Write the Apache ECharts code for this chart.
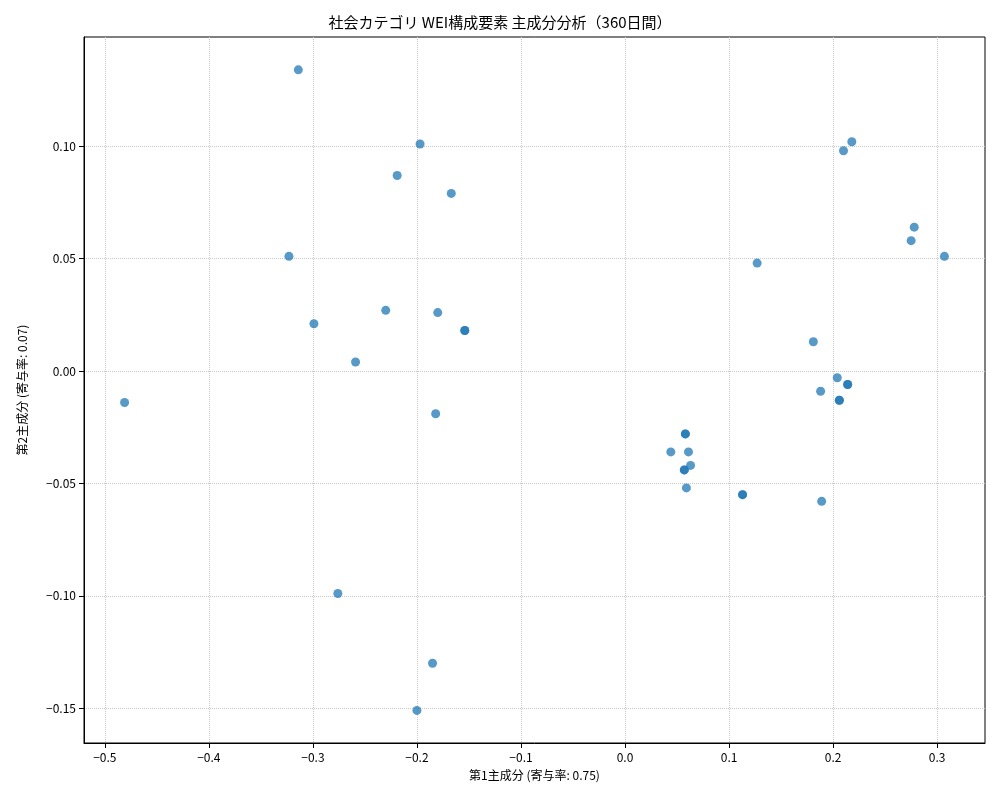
<!DOCTYPE html>
<html><head><meta charset="utf-8">
<script src="https://cdn.jsdelivr.net/npm/echarts@6/dist/echarts.min.js"></script>
<style>html,body{margin:0;padding:0;background:#fff}#c{width:1000px;height:800px}</style>
</head><body><div id="c"></div>
<script>
const pc1 = [-0.314,-0.197,0.218,0.210,-0.219,-0.167,0.278,0.275,-0.323,0.307,0.127,-0.230,-0.180,-0.299,-0.154,-0.154,0.181,-0.259,0.204,0.214,0.214,-0.481,0.188,0.206,0.206,-0.182,0.058,0.058,0.044,0.061,0.063,0.057,0.057,0.059,0.113,0.113,0.189,-0.276,-0.185,-0.200];
const pc2 = [0.134,0.101,0.102,0.098,0.087,0.079,0.064,0.058,0.051,0.051,0.048,0.027,0.026,0.021,0.018,0.018,0.013,0.004,-0.003,-0.006,-0.006,-0.014,-0.009,-0.013,-0.013,-0.019,-0.028,-0.028,-0.036,-0.036,-0.042,-0.044,-0.044,-0.052,-0.055,-0.055,-0.058,-0.099,-0.130,-0.151];
const xTicks = [-0.5,-0.4,-0.3,-0.2,-0.1,0.0,0.1,0.2,0.3];
const yTicks = [-0.15,-0.10,-0.05,0.00,0.05,0.10];
const F = '"Noto Sans CJK JP", "DejaVu Sans", sans-serif';
const chart = echarts.init(document.getElementById('c'));
const grid = {type:'dotted', color:'#c8c8c8'};
chart.setOption({
  animation:false,
  title:{text:'社会カテゴリ WEI構成要素 主成分分析（360日間）',left:'center',top:10,textStyle:{fontFamily:F,fontSize:15,fontWeight:'normal',color:'#000'}},
  grid:{left:84,right:15,top:37,bottom:57,containLabel:false,show:true,borderColor:'#000',borderWidth:1},
  xAxis:{type:'value',min:-0.520,max:0.346,
    name:'第1主成分 (寄与率: 0.75)',nameLocation:'middle',nameGap:26,nameTextStyle:{fontFamily:F,fontSize:12,color:'#000'},
    axisLine:{show:true,onZero:false,lineStyle:{color:'#000'}},axisTick:{show:true,customValues:xTicks,lineStyle:{color:'#000'}},
    splitLine:{show:true,lineStyle:grid},
    axisLabel:{fontFamily:F,fontSize:12,color:'#000',
      customValues:xTicks,formatter:v=>{const r=Math.round(v*10)/10;return (r<0?'−':'')+Math.abs(r).toFixed(1);}}},
  yAxis:{type:'value',min:-0.1655,max:0.1486,
    name:'第2主成分 (寄与率: 0.07)',nameLocation:'middle',nameGap:56,nameTextStyle:{fontFamily:F,fontSize:12,color:'#000'},
    axisLine:{show:true,onZero:false,lineStyle:{color:'#000'}},axisTick:{show:true,customValues:yTicks,lineStyle:{color:'#000'}},
    splitLine:{show:true,lineStyle:grid},
    axisLabel:{fontFamily:F,fontSize:12,color:'#000',customValues:yTicks,
      formatter:v=>{const r=Math.round(v*100)/100;return (r<0?'−':'')+Math.abs(r).toFixed(2);}}},
  series:[{type:'scatter',symbolSize:9,data:pc1.map((x,i)=>[x,pc2[i]]),
    itemStyle:{color:'#1f77b4',opacity:0.75}}]
});
</script></body></html>
